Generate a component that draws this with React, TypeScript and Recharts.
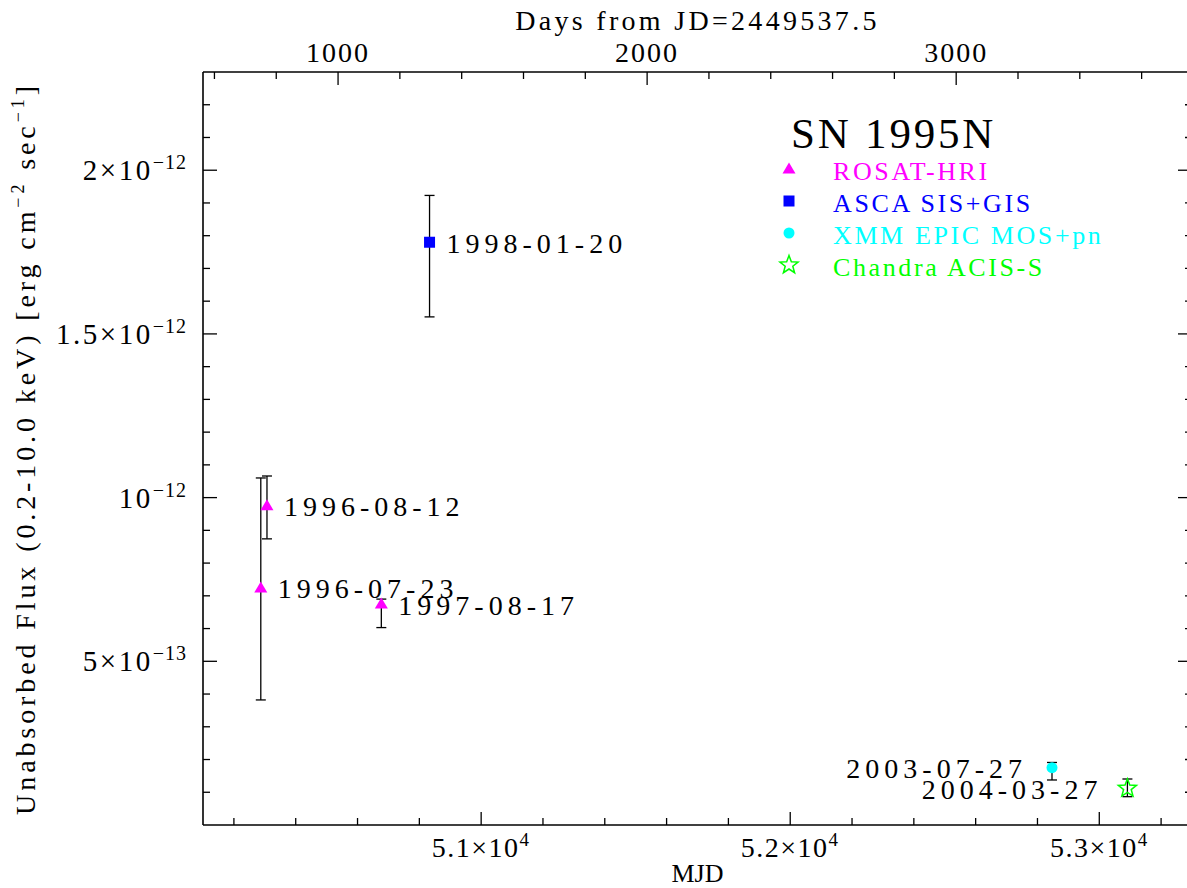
import React from 'react';
import { ScatterChart, Scatter, XAxis, YAxis, ErrorBar, Legend } from 'recharts';

const FONT = '"Liberation Serif", "Times New Roman", serif';

// MJD of JD 2449537.5 (zero point of the top axis)
const JD_ZERO_MJD = 49537;

// ROSAT-HRI
const ROSAT_DATE = ['1996-07-23', '1996-08-12', '1997-08-17'];
const ROSAT_MJD = [50287, 50307, 50677];
const ROSAT_FLUX = [0.724e-12, 0.975e-12, 0.675e-12];
const ROSAT_LOW = [0.382e-12, 0.874e-12, 0.603e-12];
const ROSAT_HIGH = [1.06e-12, 1.066e-12, 0.69e-12];

// ASCA SIS+GIS
const ASCA_DATE = ['1998-01-20'];
const ASCA_MJD = [50833];
const ASCA_FLUX = [1.78e-12];
const ASCA_LOW = [1.552e-12];
const ASCA_HIGH = [1.923e-12];

// XMM EPIC MOS+pn
const XMM_DATE = ['2003-07-27'];
const XMM_MJD = [52847];
const XMM_FLUX = [0.175e-12];
const XMM_LOW = [0.1375e-12];
const XMM_HIGH = [0.191e-12];

// Chandra ACIS-S
const CHANDRA_DATE = ['2004-03-27'];
const CHANDRA_MJD = [53091];
const CHANDRA_FLUX = [0.112e-12];
const CHANDRA_LOW = [0.0865e-12];
const CHANDRA_HIGH = [0.1405e-12];

// labels drawn on the left of their point
const LABEL_ON_LEFT = ['2003-07-27', '2004-03-27'];

const SERIES_NAMES = ['ROSAT-HRI', 'ASCA SIS+GIS', 'XMM EPIC MOS+pn', 'Chandra ACIS-S'];
const SERIES_COLORS = ['#ff00ff', '#0000ff', '#00ffff', '#00ff00'];
const SERIES_MARKERS = ['triangle', 'square', 'circle', 'star'];

// axes
const X_DOMAIN = [50100, 53300];
const X_MAJOR = [51000, 52000, 53000];
const X_MAJOR_LABEL = ['5.1×10', '5.2×10', '5.3×10'];
const X_MAJOR_EXP = ['4', '4', '4'];
const X_TICKS = Array.from({ length: 16 }, (_, i) => 50200 + 200 * i);

const DAY_MAJOR = [1000, 2000, 3000];
const DAY_MAJOR_LABEL = ['1000', '2000', '3000'];
const DAY_TICKS = Array.from({ length: 16 }, (_, i) => 600 + 200 * i);

const Y_DOMAIN = [0, 2.3e-12];
const Y_MAJOR = [5e-13, 1e-12, 1.5e-12, 2e-12];
const Y_MAJOR_LABEL = ['5×10', '10', '1.5×10', '2×10'];
const Y_MAJOR_EXP = ['−13', '−12', '−12', '−12'];
const Y_TICKS = Array.from({ length: 22 }, (_, i) => (i + 1) * 1e-13);

const build = (date: string[], mjd: number[], flux: number[], low: number[], high: number[]) =>
  mjd.map((m, i) => ({
    date: date[i],
    mjd: m,
    days: m - JD_ZERO_MJD,
    flux: flux[i],
    err: [flux[i] - low[i], high[i] - flux[i]],
  }));

const rosat = build(ROSAT_DATE, ROSAT_MJD, ROSAT_FLUX, ROSAT_LOW, ROSAT_HIGH);
const asca = build(ASCA_DATE, ASCA_MJD, ASCA_FLUX, ASCA_LOW, ASCA_HIGH);
const xmm = build(XMM_DATE, XMM_MJD, XMM_FLUX, XMM_LOW, XMM_HIGH);
const chandra = build(CHANDRA_DATE, CHANDRA_MJD, CHANDRA_FLUX, CHANDRA_LOW, CHANDRA_HIGH);
const allPoints = [...rosat, ...asca, ...xmm, ...chandra];

const findMajor = (majors: number[], v: number) =>
  majors.findIndex((m) => Math.abs(m - v) <= Math.abs(m) * 1e-6);

const Marker = ({ kind, cx, cy, color }: { kind: string; cx: number; cy: number; color: string }) => {
  if (kind === 'triangle')
    return <polygon points={`${cx},${cy - 6.5} ${cx - 6.5},${cy + 4.5} ${cx + 6.5},${cy + 4.5}`} fill={color} />;
  if (kind === 'square') return <rect x={cx - 5.5} y={cy - 5.5} width={11} height={11} fill={color} />;
  if (kind === 'circle') return <circle cx={cx} cy={cy} r={5.5} fill={color} />;
  const pts = Array.from({ length: 10 }, (_, i) => {
    const r = i % 2 ? 4 : 9.5;
    const a = -Math.PI / 2 + (i * Math.PI) / 5;
    return `${cx + r * Math.cos(a)},${cy + r * Math.sin(a)}`;
  }).join(' ');
  return <polygon points={pts} fill="none" stroke={color} strokeWidth={1.5} />;
};

const makeShape = (kind: string, color: string) => (props: any) => {
  const { cx, cy, payload } = props;
  const left = LABEL_ON_LEFT.includes(payload.date);
  return (
    <g>
      <Marker kind={kind} cx={cx} cy={cy} color={color} />
      <text
        x={left ? cx - 25 : cx + 17}
        y={cy + 10.5}
        textAnchor={left ? 'end' : 'start'}
        fontFamily={FONT}
        fontSize={28}
        letterSpacing={5}
        fill="#000"
      >
        {payload.date}
      </text>
    </g>
  );
};

const NoShape = () => <g />;

const BottomTick = (props: any) => {
  const { x, y, payload } = props;
  const k = findMajor(X_MAJOR, payload.value);
  return (
    <g>
      <line x1={x} x2={x} y1={y} y2={y - (k >= 0 ? 13 : 7)} stroke="#000" strokeWidth={1.3} />
      {k >= 0 && (
        <text x={x} y={y + 32} textAnchor="middle" fontFamily={FONT} fontSize={28} letterSpacing={1.5} fill="#000">
          {X_MAJOR_LABEL[k]}
          <tspan dy={-11} fontSize={19}>{X_MAJOR_EXP[k]}</tspan>
        </text>
      )}
    </g>
  );
};

const TopTick = (props: any) => {
  const { x, y, payload } = props;
  const k = findMajor(DAY_MAJOR, payload.value);
  return (
    <g>
      <line x1={x} x2={x} y1={y} y2={y + (k >= 0 ? 13 : 7)} stroke="#000" strokeWidth={1.3} />
      {k >= 0 && (
        <text x={x} y={y - 10} textAnchor="middle" fontFamily={FONT} fontSize={28} letterSpacing={2} fill="#000">
          {DAY_MAJOR_LABEL[k]}
        </text>
      )}
    </g>
  );
};

const LeftTick = (props: any) => {
  const { x, y, payload } = props;
  const k = findMajor(Y_MAJOR, payload.value);
  return (
    <g>
      <line x1={x} x2={x + (k >= 0 ? 14 : 7)} y1={y} y2={y} stroke="#000" strokeWidth={1.3} />
      {k >= 0 && (
        <text x={x - 16} y={y + 10} textAnchor="end" fontFamily={FONT} fontSize={29} letterSpacing={2.5} fill="#000">
          {Y_MAJOR_LABEL[k]}
          <tspan dy={-11} fontSize={20} letterSpacing={1}>{Y_MAJOR_EXP[k]}</tspan>
        </text>
      )}
    </g>
  );
};

const RightTick = (props: any) => {
  const { x, y, payload } = props;
  const k = findMajor(Y_MAJOR, payload.value);
  return <line x1={x} x2={x - (k >= 0 ? 14 : 7)} y1={y} y2={y} stroke="#000" strokeWidth={1.3} />;
};

const LegendBox = () => (
  <svg width={340} height={180} style={{ display: 'block', overflow: 'visible' }}>
    <text x={11} y={38} fontFamily={FONT} fontSize={43} letterSpacing={2.8} fill="#000">
      SN 1995N
    </text>
    {SERIES_NAMES.map((name, i) => (
      <g key={name}>
        <Marker kind={SERIES_MARKERS[i]} cx={9} cy={59 + 32 * i} color={SERIES_COLORS[i]} />
        <text x={53} y={70 + 32 * i} fontFamily={FONT} fontSize={26} letterSpacing={2.6} fill={SERIES_COLORS[i]}>
          {name}
        </text>
      </g>
    ))}
  </svg>
);

const axisLine = { stroke: '#000', strokeWidth: 1.6 };

const App: React.FC = () => {
  const seriesData = [rosat, asca, xmm, chandra];
  return (
    <div
      style={{
        position: 'absolute',
        left: 0,
        top: 0,
        width: 1187,
        height: 888,
        overflow: 'hidden',
        background: '#fff',
      }}
    >
      <ScatterChart width={1200} height={888} margin={{ top: 0, right: 0, bottom: 0, left: 0 }}>
        <XAxis
          xAxisId="mjd"
          dataKey="mjd"
          type="number"
          orientation="bottom"
          domain={X_DOMAIN}
          allowDataOverflow
          ticks={X_TICKS}
          interval={0}
          tick={BottomTick}
          tickLine={false}
          tickSize={0}
          tickMargin={0}
          height={63}
          axisLine={axisLine}
          label={{
            content: (p: any) => {
              const vb = p.viewBox || { x: 203, y: 825, width: 989 };
              return (
                <text x={vb.x + vb.width / 2} y={vb.y + 57} textAnchor="middle" fontFamily={FONT} fontSize={26} fill="#000">
                  MJD
                </text>
              );
            },
          }}
        />
        <XAxis
          xAxisId="days"
          dataKey="days"
          type="number"
          orientation="top"
          domain={[X_DOMAIN[0] - JD_ZERO_MJD, X_DOMAIN[1] - JD_ZERO_MJD]}
          allowDataOverflow
          ticks={DAY_TICKS}
          interval={0}
          tick={TopTick}
          tickLine={false}
          tickSize={0}
          tickMargin={0}
          height={72}
          axisLine={axisLine}
          label={{
            content: (p: any) => {
              const vb = p.viewBox || { x: 203, y: 0, width: 989 };
              return (
                <text x={vb.x + vb.width / 2} y={vb.y + 30} textAnchor="middle" fontFamily={FONT} fontSize={28} letterSpacing={3.3} fill="#000">
                  Days from JD=2449537.5
                </text>
              );
            },
          }}
        />
        <YAxis
          yAxisId="flux"
          dataKey="flux"
          type="number"
          domain={Y_DOMAIN}
          allowDataOverflow
          ticks={Y_TICKS}
          interval={0}
          tick={LeftTick}
          tickLine={false}
          tickSize={0}
          tickMargin={0}
          width={203}
          axisLine={axisLine}
          label={{
            content: (p: any) => {
              const vb = p.viewBox || { x: 0, y: 72, height: 753 };
              const cx = vb.x + 35;
              const cy = vb.y + vb.height / 2;
              return (
                <text
                  x={cx}
                  y={cy}
                  transform={`rotate(-90, ${cx}, ${cy})`}
                  textAnchor="middle"
                  fontFamily={FONT}
                  fontSize={28}
                  letterSpacing={3.9}
                  fill="#000"
                >
                  Unabsorbed Flux (0.2-10.0 keV) [erg cm
                  <tspan dy={-11} fontSize={18}>−2</tspan>
                  <tspan dy={11}> sec</tspan>
                  <tspan dy={-11} fontSize={18}>−1</tspan>
                  <tspan dy={11}>]</tspan>
                </text>
              );
            },
          }}
        />
        <YAxis
          yAxisId="right"
          type="number"
          orientation="right"
          domain={Y_DOMAIN}
          allowDataOverflow
          ticks={Y_TICKS}
          interval={0}
          tick={RightTick}
          tickLine={false}
          tickSize={0}
          tickMargin={0}
          width={8}
          axisLine={axisLine}
        />
        <Legend
          layout="horizontal"
          verticalAlign="middle"
          align="center"
          width={340}
          height={180}
          wrapperStyle={{ left: 780, top: 110 }}
          content={() => <LegendBox />}
        />
        {/* carries the points on the top (days) axis so it gets a scale; draws nothing */}
        <Scatter
          name="days"
          data={allPoints}
          xAxisId="days"
          yAxisId="flux"
          dataKey="flux"
          shape={NoShape}
          legendType="none"
          isAnimationActive={false}
        />
        {seriesData.map((data, i) => (
          <Scatter
            key={SERIES_NAMES[i]}
            name={SERIES_NAMES[i]}
            data={data}
            xAxisId="mjd"
            yAxisId="flux"
            dataKey="flux"
            fill={SERIES_COLORS[i]}
            shape={makeShape(SERIES_MARKERS[i], SERIES_COLORS[i])}
            isAnimationActive={false}
          >
            <ErrorBar
              dataKey="err"
              direction="y"
              width={5}
              stroke="#000"
              strokeWidth={1.3}
              isAnimationActive={false}
            />
          </Scatter>
        ))}
      </ScatterChart>
    </div>
  );
};

export default App;
